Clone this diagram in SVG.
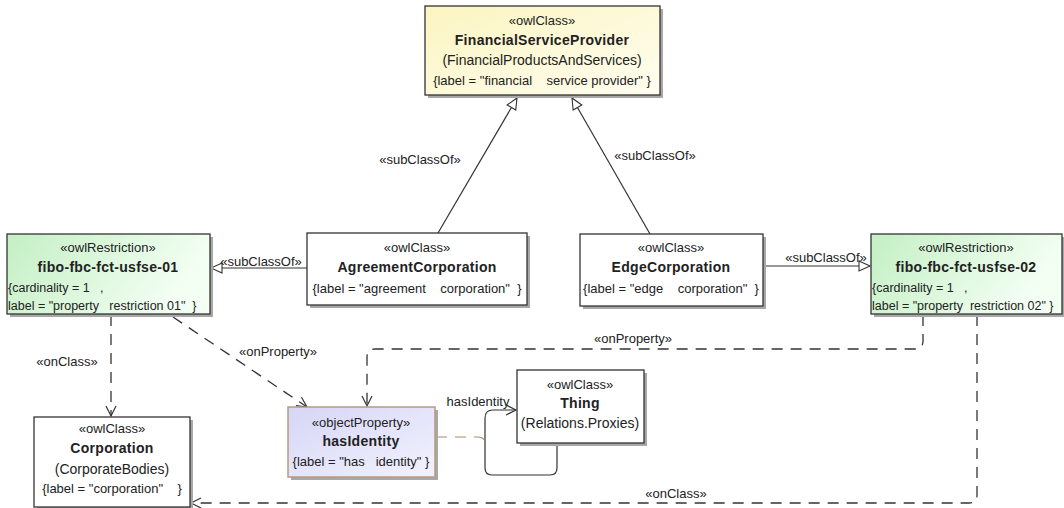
<svg xmlns="http://www.w3.org/2000/svg" width="1064" height="508" viewBox="0 0 1064 508">
<defs>
<linearGradient id="gY" x1="0" y1="0" x2="1" y2="1"><stop offset="0" stop-color="#fbf5c0"/><stop offset="1" stop-color="#fffdf0"/></linearGradient>
<linearGradient id="gG" x1="0" y1="0" x2="1" y2="0.3"><stop offset="0" stop-color="#c4efc4"/><stop offset="1" stop-color="#f4fff4"/></linearGradient>
<linearGradient id="gP" x1="0" y1="0" x2="1" y2="1"><stop offset="0" stop-color="#d6d6f6"/><stop offset="1" stop-color="#f2f2ff"/></linearGradient>
<marker id="tri" markerWidth="14" markerHeight="14" refX="12" refY="6" orient="auto" markerUnits="userSpaceOnUse"><path d="M1,1 L12,6 L1,11 Z" fill="#fff" stroke="#333" stroke-width="1.1"/></marker>
<marker id="open" markerWidth="14" markerHeight="14" refX="11" refY="6" orient="auto" markerUnits="userSpaceOnUse"><path d="M1,1 L11,6 L1,11" fill="none" stroke="#333" stroke-width="1.2"/></marker>
</defs>
<style>
text{font-family:"Liberation Sans",Arial,sans-serif;font-size:13px;fill:#222;white-space:pre}
.b{font-weight:bold;font-size:14px;letter-spacing:0.3px}
.p{font-size:14px}
.r{font-size:12.5px}
.box{stroke:#333;stroke-width:1.3}
.sh{fill:#a8a8a8}
.ln{fill:none;stroke:#333;stroke-width:1.2}
.ds{fill:none;stroke:#333;stroke-width:1.3;stroke-dasharray:11 8}
.br{fill:none;stroke:#b08860;stroke-width:1.2;stroke-dasharray:11 8}
</style>
<g id="connectors">
<path class="ln" d="M438,233 L517,98" marker-end="url(#tri)"/>
<path class="ln" d="M650,234 L572,98" marker-end="url(#tri)"/>
<path class="ln" d="M307,268 L211,268" marker-end="url(#tri)"/>
<path class="ln" d="M763,266 L870,266" marker-end="url(#tri)"/>
<path class="ds" d="M111,315 L111,416" marker-end="url(#open)"/>
<path class="ds" d="M173,317 L307,407" marker-end="url(#open)"/>
<path class="ds" d="M923,315 L923,341 Q923,349 915,349 L375,349 Q367,349 367,357 L367,406" marker-end="url(#open)"/>
<path class="ds" d="M977,315 L977,495 Q977,503 969,503 L191,503" marker-end="url(#open)"/>
<path class="ln" d="M557,443 L557,468 Q557,475 550,475 L492,475 Q485,475 485,468 L485,418 Q485,410 493,410 L516,410" marker-end="url(#open)"/>
<path class="br" d="M436,437 L478,437 Q485,437 485,444"/>
<text x="420" y="164" text-anchor="middle">«subClassOf»</text>
<text x="655" y="160" text-anchor="middle">«subClassOf»</text>
<text x="261" y="266" text-anchor="middle">«subClassOf»</text>
<text x="826" y="262" text-anchor="middle">«subClassOf»</text>
<text x="67" y="366" text-anchor="middle">«onClass»</text>
<text x="278" y="356" text-anchor="middle">«onProperty»</text>
<text x="633" y="343" text-anchor="middle">«onProperty»</text>
<text x="676" y="498" text-anchor="middle">«onClass»</text>
<text x="478" y="406" text-anchor="middle">hasIdentity</text>
</g>
<g id="FinancialServiceProvider">
<rect class="sh" x="428" y="9" width="235" height="89"/>
<rect class="box" x="425" y="6" width="235" height="89" fill="url(#gY)"/>
<text x="542" y="25" text-anchor="middle">«owlClass»</text>
<text class="b" x="542" y="45" text-anchor="middle">FinancialServiceProvider</text>
<text class="p" x="542" y="65" text-anchor="middle">(FinancialProductsAndServices)</text>
<text x="542" y="85" text-anchor="middle">{label = "financial    service provider" }</text>
</g>
<g id="fibo01">
<rect class="sh" x="10" y="237" width="203" height="80"/>
<rect class="box" x="7" y="234" width="203" height="80" fill="url(#gG)"/>
<text x="108" y="252" text-anchor="middle">«owlRestriction»</text>
<text class="b" x="108" y="272" text-anchor="middle">fibo-fbc-fct-usfse-01</text>
<text class="r" x="8" y="292">{cardinality = 1   ,</text>
<text class="r" x="8" y="310">label = "property   restriction 01"  }</text>
</g>
<g id="AgreementCorporation">
<rect class="sh" x="310" y="236" width="220" height="72"/>
<rect class="box" x="307" y="233" width="220" height="72" fill="#fff"/>
<text x="417" y="252" text-anchor="middle">«owlClass»</text>
<text class="b" x="417" y="272" text-anchor="middle">AgreementCorporation</text>
<text x="417" y="293" text-anchor="middle">{label = "agreement    corporation"  }</text>
</g>
<g id="EdgeCorporation">
<rect class="sh" x="583" y="237" width="183" height="72"/>
<rect class="box" x="580" y="234" width="183" height="72" fill="#fff"/>
<text x="671" y="252" text-anchor="middle">«owlClass»</text>
<text class="b" x="671" y="272" text-anchor="middle">EdgeCorporation</text>
<text x="671" y="293" text-anchor="middle">{label = "edge    corporation"  }</text>
</g>
<g id="fibo02">
<rect class="sh" x="874" y="237" width="191" height="80"/>
<rect class="box" x="871" y="234" width="191" height="80" fill="url(#gG)"/>
<text x="966" y="252" text-anchor="middle">«owlRestriction»</text>
<text class="b" x="966" y="272" text-anchor="middle">fibo-fbc-fct-usfse-02</text>
<text class="r" x="872" y="292">{cardinality = 1   ,</text>
<text class="r" x="872" y="310">label = "property  restriction 02" }</text>
</g>
<g id="Corporation">
<rect class="sh" x="37" y="420" width="156" height="90"/>
<rect class="box" x="34" y="417" width="156" height="90" fill="#fff"/>
<text x="112" y="433" text-anchor="middle">«owlClass»</text>
<text class="b" x="112" y="453" text-anchor="middle">Corporation</text>
<text class="p" x="112" y="474" text-anchor="middle">(CorporateBodies)</text>
<text x="112" y="493" text-anchor="middle">{label = "corporation"    }</text>
</g>
<g id="hasIdentity">
<rect class="sh" x="291" y="410" width="147" height="70"/>
<rect x="288" y="407" width="147" height="70" fill="url(#gP)" stroke="#b89a7c" stroke-width="1.5"/>
<text x="361" y="427" text-anchor="middle">«objectProperty»</text>
<text class="b" x="361" y="446" text-anchor="middle">hasIdentity</text>
<text x="361" y="466" text-anchor="middle">{label = "has   identity" }</text>
</g>
<g id="Thing">
<rect class="sh" x="520" y="373" width="127" height="73"/>
<rect class="box" x="517" y="370" width="127" height="73" fill="#fff"/>
<text x="580" y="389" text-anchor="middle">«owlClass»</text>
<text class="b" x="580" y="408" text-anchor="middle">Thing</text>
<text class="p" x="580" y="428" text-anchor="middle">(Relations.Proxies)</text>
</g>
</svg>
